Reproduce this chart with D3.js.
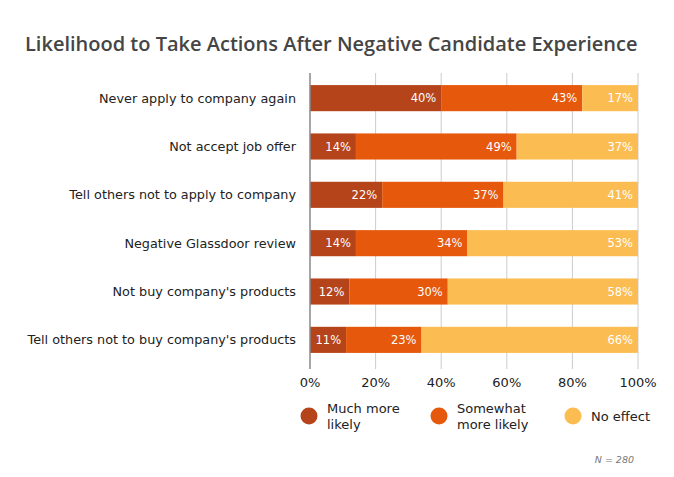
<!DOCTYPE html>
<html><head><meta charset="utf-8">
<script src="https://cdn.jsdelivr.net/npm/d3@7"></script>
<style>body{margin:0;background:#fff}svg{display:block}</style>
</head><body>
<svg id="c" width="674" height="477"></svg>
<script>
const categories = ["Never apply to company again","Not accept job offer","Tell others not to apply to company","Negative Glassdoor review","Not buy company's products","Tell others not to buy company's products"];
const seriesNames = ["Much more likely","Somewhat more likely","No effect"];
const muchMore = [40,14,22,14,12,11];
const somewhat = [43,49,37,34,30,23];
const noEffect = [17,37,41,53,58,66];
const tickValues = [0,20,40,60,80,100];
const colors = ["#b5441b","#e6580b","#fbbd51"];

const svg = d3.select("#c");
const font = "'DejaVu Sans', Verdana, sans-serif";
const m = {l:310, r:638, t:73, b:365};
const x = d3.scaleLinear().domain([0,100]).range([m.l, m.r]).clamp(true);
const y = d3.scaleBand().domain(categories).range([m.t, m.b]).paddingInner(0.46).paddingOuter(0.25);

svg.append("text").attr("x",25).attr("y",51).text("Likelihood to Take Actions After Negative Candidate Experience")
  .attr("font-family","'Open Sans', sans-serif").attr("font-size",20).attr("font-weight",600).attr("fill","#454545");

// grid
svg.append("g").selectAll("line").data(tickValues.slice(1)).join("line")
  .attr("x1",d=>x(d)).attr("x2",d=>x(d)).attr("y1",m.t).attr("y2",m.b+4)
  .attr("stroke","#ccc").attr("stroke-width",1);

const data = categories.map((c,i)=>({c, v:[muchMore[i],somewhat[i],noEffect[i]]}));
const rows = svg.append("g").selectAll("g").data(data).join("g");
rows.each(function(d){
  let acc=0;
  const g=d3.select(this);
  d.v.forEach((v,j)=>{
    const x0=acc, x1=acc+v; acc=x1;
    g.append("rect").attr("x",x(x0)).attr("y",y(d.c)).attr("width",x(x1)-x(x0)).attr("height",y.bandwidth()).attr("fill",colors[j]);
    g.append("text").attr("x",x(x1)-5).attr("y",y(d.c)+y.bandwidth()/2).attr("dy","0.35em")
      .attr("text-anchor","end").attr("fill","#fff").attr("font-family",font).attr("font-size",11.5).text(v+"%");
  });
});

// left axis line
svg.append("line").attr("x1",m.l).attr("x2",m.l).attr("y1",m.t).attr("y2",m.b+4).attr("stroke","#888").attr("stroke-width",1.5);

// y labels
svg.append("g").selectAll("text").data(categories).join("text")
  .attr("x",m.l-14).attr("y",d=>y(d)+y.bandwidth()/2).attr("dy","0.35em").attr("text-anchor","end")
  .attr("font-family",font).attr("font-size",12.8).attr("fill","#222").text(d=>d);

// x tick labels
svg.append("g").selectAll("text").data(tickValues).join("text")
  .attr("x",d=>x(d)).attr("y",387).attr("text-anchor","middle")
  .attr("font-family",font).attr("font-size",13).attr("fill","#222").text(d=>d+"%");

// legend
const leg = [{x:309, lines:["Much more","likely"]},{x:439, lines:["Somewhat","more likely"]},{x:573, lines:["No effect"]}];
leg.forEach((l,i)=>{
  svg.append("circle").attr("cx",l.x).attr("cy",416).attr("r",8.5).attr("fill",colors[i]);
  const t = svg.append("text").attr("font-family",font).attr("font-size",13).attr("fill","#222");
  const y0 = l.lines.length===1 ? 421 : 413;
  l.lines.forEach((s,k)=>t.append("tspan").attr("x",l.x+18).attr("y",y0+k*16).text(s));
});

svg.append("text").attr("x",634).attr("y",463).attr("text-anchor","end").attr("font-family",font)
  .attr("font-style","italic").attr("font-size",9.5).attr("fill","#777").text("N = 280");
</script>
</body></html>
